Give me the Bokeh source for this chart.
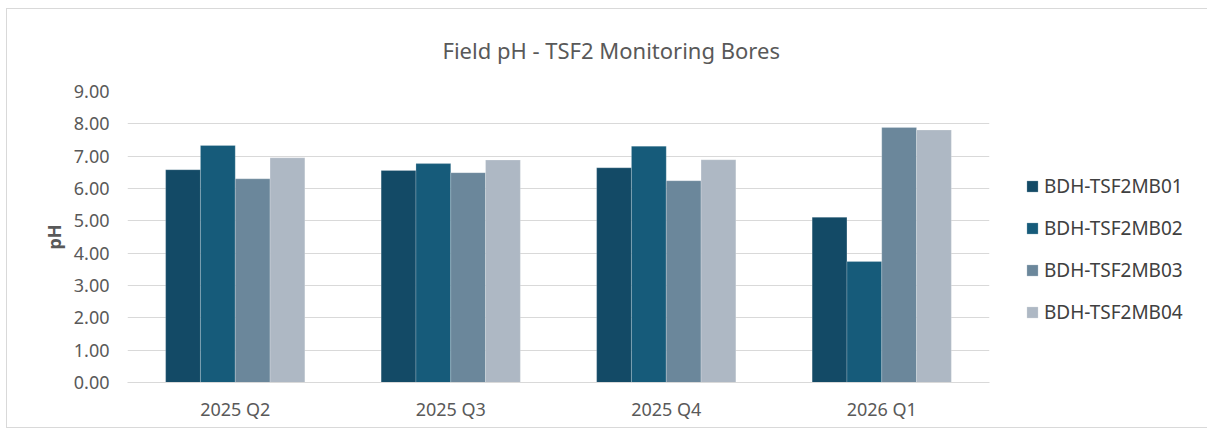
from bokeh.plotting import figure
from bokeh.models import ColumnDataSource, Legend, LegendItem, NumeralTickFormatter, SingleIntervalTicker
from bokeh.transform import dodge
from bokeh.embed import file_html
from bokeh.resources import INLINE

quarters = ["2025 Q2", "2025 Q3", "2025 Q4", "2026 Q1"]
series_names = ["BDH-TSF2MB01", "BDH-TSF2MB02", "BDH-TSF2MB03", "BDH-TSF2MB04"]
mb01 = [6.58, 6.56, 6.64, 5.11]
mb02 = [7.33, 6.77, 7.31, 3.74]
mb03 = [6.30, 6.49, 6.24, 7.89]
mb04 = [6.95, 6.88, 6.89, 7.81]
colors = ["#134A66", "#165B7A", "#6B879B", "#AEB8C4"]

src = ColumnDataSource(dict(q=quarters, mb01=mb01, mb02=mb02, mb03=mb03, mb04=mb04))

p = figure(x_range=quarters, y_range=(0, 9), frame_width=862, frame_height=291,
           output_backend="svg", toolbar_location=None,
           min_border_left=120, min_border_right=214, min_border_top=81, min_border_bottom=45,
           title="Field pH - TSF2 Monitoring Bores")
p.styles = {"border": "1px solid #d9d9d9", "margin-left": "6px", "margin-top": "8px"}

p.title.align = "left"
p.title.offset = 315
p.title.text_font = "Noto Sans"
p.title.text_font_size = "22px"
p.title.text_font_style = "normal"
p.title.text_color = "#595959"
p.title.vertical_align = "top"
p.title.standoff = 50

bw = 0.1615
offsets = [-1.5 * bw, -0.5 * bw, 0.5 * bw, 1.5 * bw]
cols = ["mb01", "mb02", "mb03", "mb04"]
items = []
for c, off, colr, name in zip(cols, offsets, colors, series_names):
    r = p.vbar(x=dodge("q", off, range=p.x_range), top=c, width=bw, source=src,
               fill_color=colr, line_color="white", line_alpha=0.35, line_width=0.6)
    items.append(LegendItem(label=name, renderers=[r]))

legend = Legend(items=items, location=(36, 57), orientation="vertical",
                label_text_font="Noto Sans", label_text_font_size="19px",
                label_text_color="#404040", glyph_width=14, glyph_height=14,
                label_height=20, spacing=16, padding=0, margin=0,
                border_line_color=None, background_fill_alpha=0, label_standoff=5)
p.add_layout(legend, "right")

p.outline_line_color = None
p.xgrid.grid_line_color = None
p.ygrid.grid_line_color = "#d9d9d9"
p.ygrid.grid_line_width = 1
p.yaxis.ticker = SingleIntervalTicker(interval=1)
p.yaxis.formatter = NumeralTickFormatter(format="0.00")
p.yaxis.axis_line_color = None
p.yaxis.major_tick_line_color = None
p.yaxis.minor_tick_line_color = None
p.yaxis.major_label_standoff = 12
p.yaxis.axis_label = "pH"
p.yaxis.axis_label_text_font = "Noto Sans"
p.yaxis.axis_label_text_font_size = "18px"
p.yaxis.axis_label_text_font_style = "bold"
p.yaxis.axis_label_text_color = "#595959"
p.yaxis.axis_label_standoff = 5

p.xaxis.axis_line_color = "#d9d9d9"
p.xaxis.major_tick_line_color = None
p.xaxis.minor_tick_line_color = None
p.xaxis.major_label_standoff = 8

for ax in (p.xaxis, p.yaxis):
    ax.major_label_text_font = "Noto Sans"
    ax.major_label_text_font_size = "18px"
    ax.major_label_text_color = "#595959"

p.x_range.range_padding = 0

open("out.html", "w").write(file_html(p, INLINE))
